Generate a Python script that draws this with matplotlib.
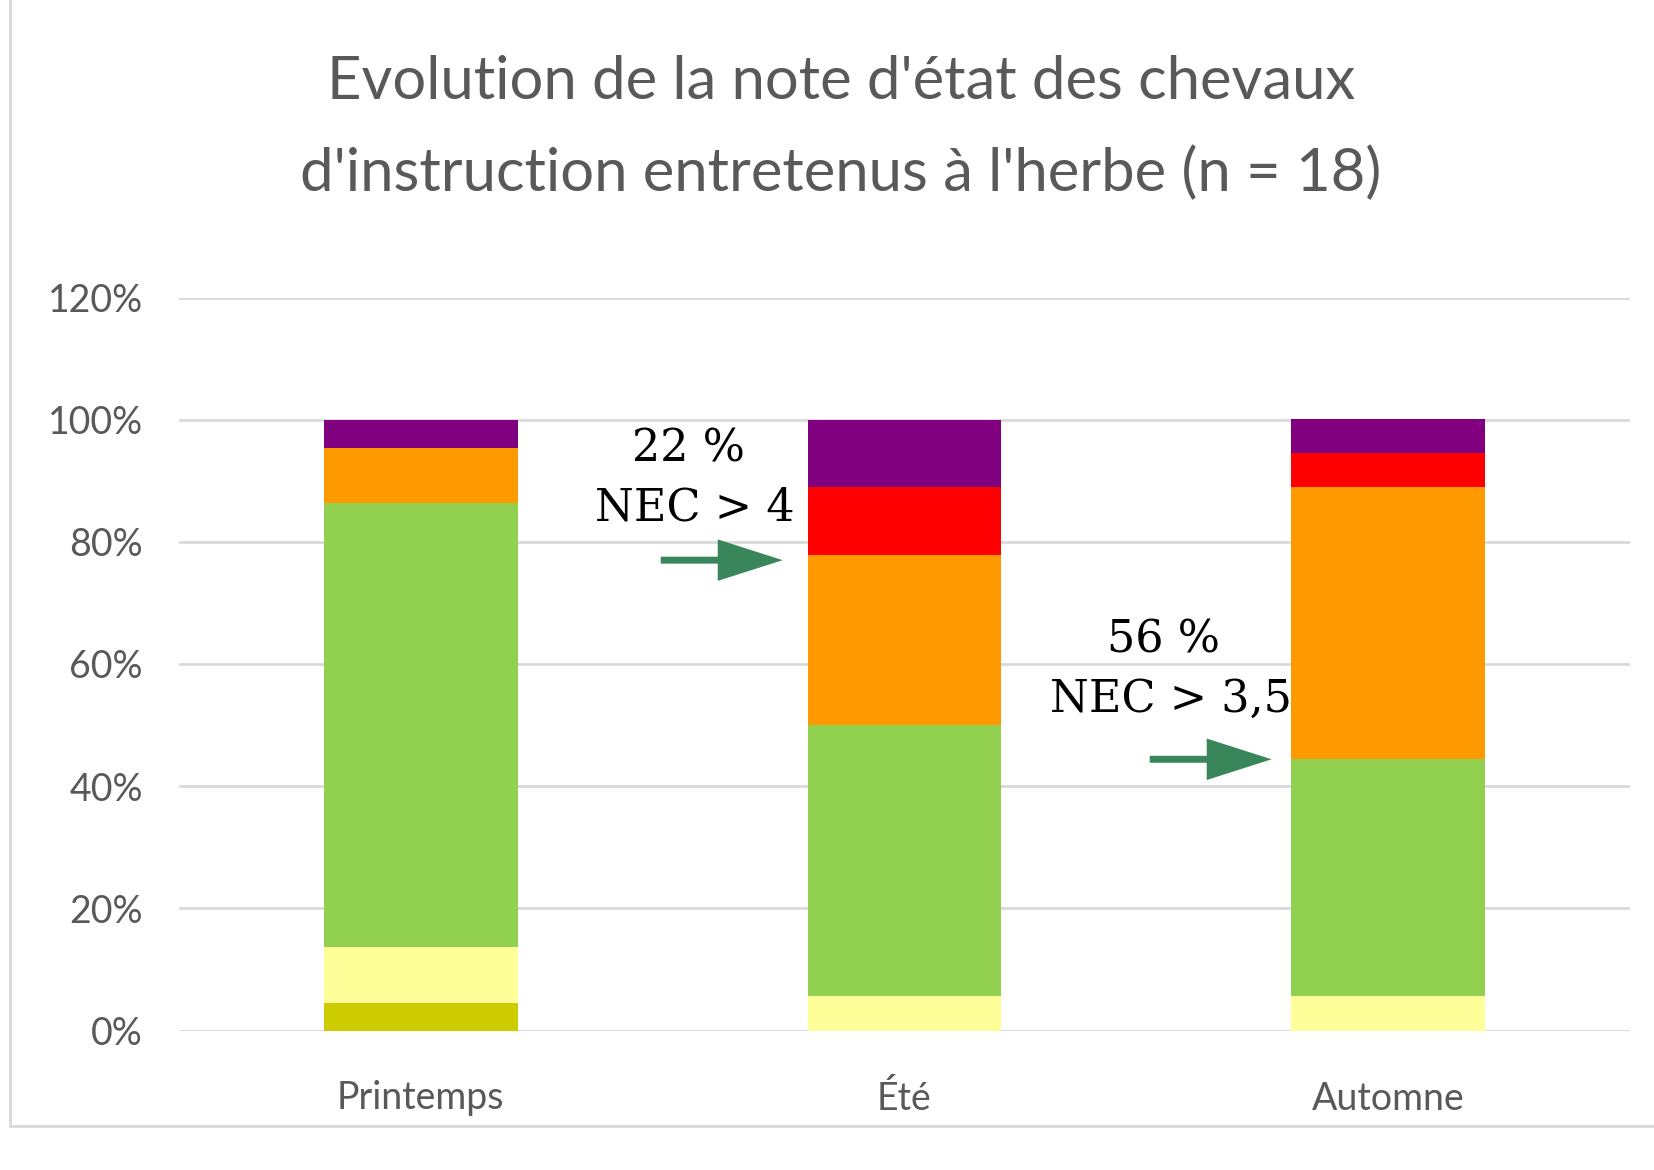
import matplotlib
matplotlib.use("Agg")
import matplotlib.pyplot as plt
from matplotlib.lines import Line2D

categories = ["Printemps", "Été", "Automne"]
# stacked segment values (%), bottom to top
seg_dark_yellow = [4.5, 0.0, 0.0]
seg_light_yellow = [9.1, 5.6, 5.6]
seg_green = [72.7, 44.4, 38.9]
seg_orange = [9.1, 27.8, 44.4]
seg_red = [0.0, 11.1, 5.6]
seg_purple = [4.5, 11.1, 5.6]
segments = [seg_dark_yellow, seg_light_yellow, seg_green, seg_orange, seg_red, seg_purple]
colors = ["#CCCC00", "#FFFF99", "#92D050", "#FF9900", "#FF0000", "#800080"]
yticks = [0, 20, 40, 60, 80, 100, 120]
ytick_labels = ["0%", "20%", "40%", "60%", "80%", "100%", "120%"]
title = "Evolution de la note d'état des chevaux\nd'instruction entretenus à l'herbe (n = 18)"
annot1 = ("22 %", "NEC > 4")
annot2 = ("56 %", "NEC > 3,5")

W, H = 1654, 1170
fig = plt.figure(figsize=(W / 100, H / 100), dpi=100)
ax = fig.add_axes([179 / W, 1 - 1030.5 / H, (1630 - 179) / W, (1030.5 - 297.5) / H])

x = list(range(len(categories)))
bottom = [0.0] * len(categories)
for vals, c in zip(segments, colors):
    ax.bar(x, vals, width=0.4, bottom=bottom, color=c, linewidth=0, zorder=3)
    bottom = [b + v for b, v in zip(bottom, vals)]

ax.set_xlim(-0.5, 2.5)
ax.set_ylim(0, 120)
ax.set_yticks(yticks)
ax.set_yticklabels(ytick_labels)
ax.set_xticks(x)
ax.set_xticklabels(categories)
ax.yaxis.grid(True, color="#D9D9D9", linewidth=2)
ax.set_axisbelow(True)
for s in ax.spines.values():
    s.set_visible(False)
ax.tick_params(length=0, labelsize=27, colors="#595959")
ax.tick_params(axis="y", pad=26)
ax.tick_params(axis="x", pad=36)
for lab in ax.get_xticklabels() + ax.get_yticklabels():
    lab.set_family("Lato")

fig.text(841 / W, 1 - 128 / H, title, ha="center", va="center", fontsize=43,
         color="#595959", family="Lato", linespacing=1.8)

serif = "DejaVu Serif"
fs = 32
ax.text(0.554, 95.2, annot1[0], ha="center", va="center", fontsize=fs, family=serif, color="black")
ax.text(0.566, 85.6, annot1[1], ha="center", va="center", fontsize=fs, family=serif, color="black")
ax.text(1.536, 63.9, annot2[0], ha="center", va="center", fontsize=fs, family=serif, color="black")
ax.text(1.550, 54.3, annot2[1], ha="center", va="center", fontsize=fs, family=serif, color="black")

arrow_kw = dict(arrowstyle="-|>,head_length=3.6,head_width=1.15", color="#388659", lw=5,
                shrinkA=0, shrinkB=0, mutation_scale=10, joinstyle="miter", capstyle="butt")
ax.annotate("", xy=(0.748, 77.0), xytext=(0.496, 77.0), arrowprops=arrow_kw)
ax.annotate("", xy=(1.759, 44.4), xytext=(1.507, 44.4), arrowprops=arrow_kw)

# outer frame (left and bottom visible)
fb = 1 - 1126 / H
fx = 10 / W
fig.add_artist(Line2D([fx, fx], [fb, 1.0], transform=fig.transFigure, color="#D9D9D9", lw=2))
fig.add_artist(Line2D([fx, 1.0], [fb, fb], transform=fig.transFigure, color="#D9D9D9", lw=2))

fig.savefig("out.png", dpi=100, facecolor="white")
